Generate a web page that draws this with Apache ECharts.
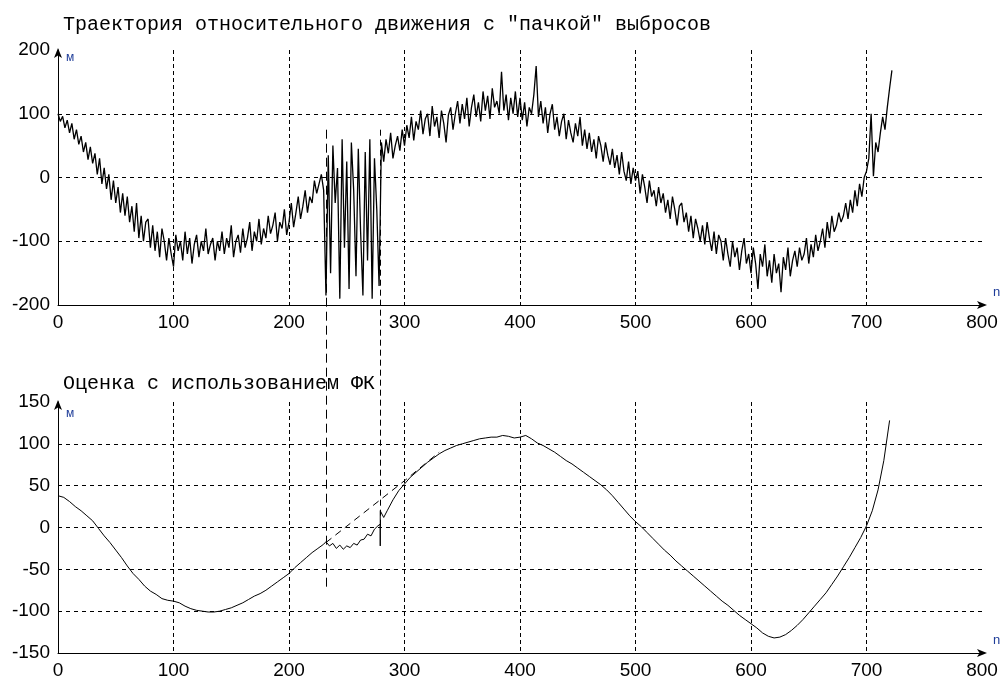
<!DOCTYPE html>
<html>
<head>
<meta charset="utf-8">
<script src="https://cdn.jsdelivr.net/npm/echarts@6/dist/echarts.min.js"></script>
<style>
html,body{margin:0;padding:0;background:#fff;}
#c{width:1002px;height:680px;}
</style>
</head>
<body>
<div id="c"></div>
<script>
// ---- Data ----
const titleTop = 'Траектория относительного движения с "пачкой" выбросов';
const titleBottom = 'Оценка с использованием ФК';
const xTicks = [0, 100, 200, 300, 400, 500, 600, 700, 800];
const topYTicks = [-200, -100, 0, 100, 200];
const bottomYTicks = [-150, -100, -50, 0, 50, 100, 150];

// raw measurements, n = 0, 2, 4, ... (step 2)
const topStep = 2;
const topValues = [
  100, 88, 96, 78, 90, 70, 85, 60, 75, 52,
  65, 40, 55, 28, 48, 22, 38, 5, 30, -10,
  15, -18, 5, -35, -5, -40, -15, -55, -25, -60,
  -30, -70, -45, -85, -40, -95, -60, -100, -70, -65,
  -110, -75, -115, -85, -125, -80, -100, -130, -95, -120,
  -140, -90, -115, -100, -130, -85, -120, -95, -135, -105,
  -90, -125, -100, -115, -80, -120, -105, -95, -130, -100,
  -115, -85, -120, -95, -110, -75, -125, -100, -90, -118,
  -80, -110, -95, -70, -115, -85, -100, -65, -105, -80,
  -95, -60, -88, -75, -55, -100, -70, -80, -50, -90,
  -70, -40, -78, -55, -30, -65, -45, -20, -55, -30,
  -40, -5, -25, -10, 5, -20,
  -185, 35, -150, 50, -40, 15, -190, 60, -110, 25, -175, 55,
  -20, -155, 45, -85, -185, 40, -130, 60, -190, 30, -50, -170,
  55, 25, 60, 38, 70, 30, 50, 65, 42, 75,
  50, 82, 62, 95, 58, 88, 75, 105, 68, 92,
  100, 65, 112, 80, 95, 62, 105, 85, 55, 98,
  110, 75, 100, 120, 85, 115, 92, 125, 80, 110,
  130, 95, 118, 88, 135, 105, 128, 92, 140, 110,
  120, 100, 166, 105, 130, 90, 125, 100, 135, 95,
  125, 90, 118, 80, 110, 100, 130, 175, 95, 120,
  85, 110, 70, 100, 115, 75, 95, 65, 88, 100,
  60, 90, 70, 55, 85, 65, 95, 50, 75, 45,
  70, 40, 60, 30, 65, 50, 25, 55, 35, 20,
  45, 15, 35, 5, 40, 10, -5, 25, -10, 15,
  -5, 10, -25, 5, -15, -40, -5, -30, -20, -45,
  -15, -40, -25, -55, -35, -65, -30, -50, -75, -45,
  -40, -70, -55, -85, -60, -95, -65, -80, -100, -75,
  -105, -70, -95, -115, -85, -120, -90, -100, -130, -95,
  -120, -140, -100, -125, -110, -145, -115, -95, -135, -120,
  -150, -110, -135, -175, -120, -140, -105, -155, -130, -165,
  -120, -150, -135, -180, -125, -145, -110, -155, -130, -115,
  -140, -110, -130, -120, -95, -135, -105, -125, -90, -115,
  -100, -80, -110, -70, -95, -60, -85, -75, -55, -70,
  -60, -40, -65, -35, -55, -20, -45, -10, -30, 0,
  10, 30, 100, 2, 55, 40, 70, 95, 75, 110,
  140, 168
];

// Kalman-filter estimate
const bottomN = [
  0, 5, 10, 15, 20, 25, 30, 35, 40, 45, 50, 55, 60, 65, 70, 75, 80, 85, 90, 95,
  100, 105, 110, 115, 120, 125, 130, 135, 140, 145, 150, 155, 160, 165, 170, 175, 180, 185, 190, 195,
  200, 205, 210, 215, 220, 225, 230, 232, 235, 238, 241, 244, 247, 250, 253, 256, 259, 262, 265, 268, 271, 274, 277, 279, 279, 279,
  282, 285, 290, 295, 300, 305, 310, 315, 320, 325, 330, 335, 340, 345, 350, 355, 360, 365, 370, 375,
  380, 385, 390, 395, 400, 405, 410, 415, 420, 425, 430, 435, 440, 445, 450, 455, 460, 465, 470, 475,
  480, 485, 490, 495, 500, 505, 510, 515, 520, 525, 530, 535, 540, 545, 550, 555, 560, 565, 570, 575,
  580, 585, 590, 595, 600, 605, 610, 615, 620, 625, 630, 635, 640, 645, 650, 655, 660, 665, 670, 675,
  680, 685, 690, 695, 700, 705, 710, 715, 720
];
const bottomV = [
  38, 36, 31, 25, 20, 14, 8, -1, -10, -18, -27, -36, -46, -55, -62, -70, -76, -80, -85, -87,
  -88, -90, -94, -97, -99, -100, -101, -101, -100, -98, -96, -93, -90, -86, -82, -79, -75, -70, -65, -60,
  -55, -48, -42, -36, -30, -25, -20, -17, -22, -19, -25, -21, -26, -22, -24, -19, -21, -15, -14, -8, -10, -2, 2, 4, -22, 20,
  12, 20, 33, 44, 52, 60, 66, 72, 78, 83, 88, 92, 95, 98, 100, 102, 104, 106, 107, 108,
  108, 110, 109, 107, 108, 110, 106, 101, 98, 94, 90, 85, 80, 76, 71, 66, 61, 56, 51, 45,
  38, 30, 22, 14, 7, 1, -6, -13, -20, -27, -33, -40, -46, -52, -58, -64, -70, -76, -82, -88,
  -93, -99, -105, -110, -115, -120, -126, -130, -132, -131, -128, -123, -117, -110, -102, -94, -86, -78, -68, -58,
  -47, -36, -24, -12, 2, 20, 45, 80, 128
];

// true trajectory drawn dashed during the outlier burst
const trueN = [232, 301, 330];
const trueV = [-18, 57, 90];

// vertical markers of the outlier burst
const markN = [232, 279];
const markTopV = [75, 75];
const markBottomV = [-75, 0];

// ---- Chart ----
const chart = echarts.init(document.getElementById('c'), null, {renderer: 'canvas'});

const topData = topValues.map((v, i) => [i * topStep, v]);
const bottomData = bottomN.map((n, i) => [n, bottomV[i]]);
const trueData = trueN.map((n, i) => [n, trueV[i]]);

const labelFont = {fontFamily: 'Liberation Sans, Arial, sans-serif', fontSize: 19, color: '#000'};
const titleFont = {fontFamily: 'Liberation Mono, Courier New, monospace', fontSize: 20, fontWeight: 'normal', color: '#000'};
const nameColor = '#1f3d99';

function xAxisCfg(gi) {
  return {
    type: 'value', gridIndex: gi, min: xTicks[0], max: xTicks[xTicks.length - 1], interval: 100,
    name: 'n', nameLocation: 'end', nameGap: 11,
    nameTextStyle: {color: nameColor, fontSize: 13, fontFamily: 'Liberation Sans, sans-serif', verticalAlign: 'bottom', padding: [0, 0, 6, 0]},
    axisLine: {show: true, onZero: false, lineStyle: {color: '#000', width: 1}, symbol: ['none', 'arrow'], symbolSize: [6, 10], symbolOffset: [0, 5]},
    axisTick: {show: false},
    axisLabel: Object.assign({margin: 8}, labelFont),
    splitLine: {show: true, showMinLine: false, showMaxLine: false, lineStyle: {color: '#000', width: 1, type: [4, 3]}}
  };
}
function yAxisCfg(gi, ticks, gap) {
  return {
    type: 'value', gridIndex: gi, min: ticks[0], max: ticks[ticks.length - 1], interval: ticks[1] - ticks[0],
    name: 'м', nameLocation: 'end', nameGap: gap,
    nameTextStyle: {color: nameColor, fontSize: 12, fontFamily: 'Liberation Sans, sans-serif', align: 'left', verticalAlign: 'top', padding: [0, 0, 0, 8]},
    axisLine: {show: true, onZero: false, lineStyle: {color: '#000', width: 1}, symbol: ['none', 'arrow'], symbolSize: [6, 10], symbolOffset: [0, 2]},
    axisTick: {show: false},
    axisLabel: Object.assign({margin: 8}, labelFont),
    splitLine: {show: true, showMinLine: false, showMaxLine: false, lineStyle: {color: '#000', width: 1, type: [4, 4]}}
  };
}

chart.setOption({
  animation: false,
  backgroundColor: '#fff',
  title: [
    {text: titleTop, left: 58, top: 10, textStyle: titleFont},
    {text: titleBottom, left: 58, top: 369, textStyle: titleFont}
  ],
  grid: [
    {left: 58, right: 20, top: 50, height: 255},
    {left: 58, right: 20, top: 402, height: 252}
  ],
  xAxis: [xAxisCfg(0), xAxisCfg(1)],
  yAxis: [yAxisCfg(0, topYTicks, -2), yAxisCfg(1, bottomYTicks, -6)],
  series: [
    {type: 'line', xAxisIndex: 0, yAxisIndex: 0, data: topData, showSymbol: false, silent: true,
     lineStyle: {color: '#000', width: 1.3}},
    {type: 'line', xAxisIndex: 1, yAxisIndex: 1, data: bottomData, showSymbol: false, silent: true,
     lineStyle: {color: '#000', width: 1}},
    {type: 'line', xAxisIndex: 1, yAxisIndex: 1, data: trueData, showSymbol: false, silent: true,
     lineStyle: {color: '#000', width: 1, type: [7, 5]}}
  ]
});

// vertical burst markers spanning both panels, positioned through the axes
const graphics = markN.map((n, i) => {
  const p1 = chart.convertToPixel({xAxisIndex: 0, yAxisIndex: 0}, [n, markTopV[i]]);
  const p2 = chart.convertToPixel({xAxisIndex: 1, yAxisIndex: 1}, [n, markBottomV[i]]);
  return {type: 'line', silent: true, z: 10,
    shape: {x1: Math.round(p1[0]) + 0.5, y1: p1[1], x2: Math.round(p2[0]) + 0.5, y2: p2[1]},
    style: {stroke: '#000', lineWidth: 1, lineDash: i === 0 ? [9, 5] : [6, 4]}};
});
chart.setOption({graphic: graphics});
</script>
</body>
</html>
